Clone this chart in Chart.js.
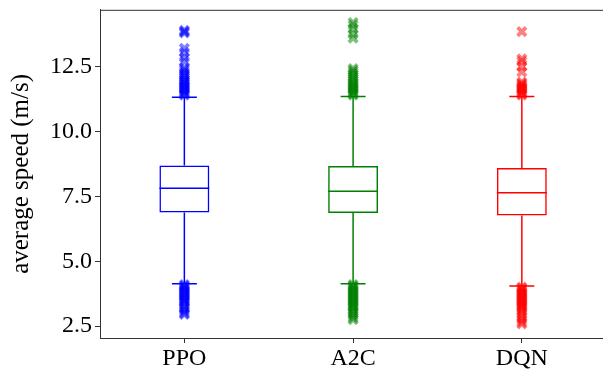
<!DOCTYPE html>
<html>
<head>
<meta charset="utf-8">
<script src="https://cdn.jsdelivr.net/npm/chart.js@4.4.0/dist/chart.umd.min.js"></script>
<style>
  html, body { margin: 0; padding: 0; background: #fff; overflow: hidden; }
  #wrap { width: 616px; height: 376px; }
</style>
</head>
<body>
<div id="wrap"><canvas id="boxChart" width="616" height="376"></canvas></div>
<script>
// data
const groups = ['PPO', 'A2C', 'DQN'];
const q1 = [6.88, 6.86, 6.76];
const medians = [7.81, 7.70, 7.64];
const q3 = [8.69, 8.67, 8.59];
const whiskerLow = [4.13, 4.13, 4.04];
const whiskerHigh = [11.32, 11.35, 11.35];
const colors = ['#0000ff', '#008000', '#ff0000'];
const fliersColors = ['rgba(0,0,255,0.5)', 'rgba(0,128,0,0.5)', 'rgba(255,0,0,0.5)'];

const ppoFliers = [13.9, 13.85, 13.8, 13.2, 13.05, 12.85, 12.7, 12.45, 12.38, 12.3, 12.22, 12.15,
  12.08, 12.0, 11.95, 11.9, 11.85, 11.8, 11.75, 11.7, 11.65, 11.6, 11.55, 11.5, 11.45, 11.4,
  4.1, 4.05, 4.0, 3.95, 3.9, 3.85, 3.8, 3.75, 3.7, 3.65, 3.6, 3.55, 3.5, 3.45, 3.4, 3.3,
  3.22, 3.15, 3.08, 3.0, 2.95];
const a2cFliers = [14.2, 14.1, 13.95, 13.75, 13.6, 12.42, 12.35, 12.28, 12.2, 12.12, 12.05,
  11.98, 11.9, 11.85, 11.8, 11.75, 11.7, 11.65, 11.6, 11.55, 11.5, 11.45, 11.4,
  4.1, 4.05, 4.0, 3.95, 3.9, 3.85, 3.8, 3.75, 3.7, 3.65, 3.6, 3.55, 3.5, 3.45, 3.4, 3.35,
  3.3, 3.25, 3.2, 3.12, 3.05, 2.98, 2.9, 2.82, 2.75];
const dqnFliers = [13.85, 12.8, 12.7, 12.5, 12.3, 11.9, 11.85, 11.8, 11.75, 11.7, 11.65, 11.6,
  11.55, 11.5, 11.45, 11.4,
  4.0, 3.95, 3.9, 3.85, 3.8, 3.75, 3.7, 3.65, 3.6, 3.55, 3.5, 3.45, 3.4, 3.35, 3.3, 3.25,
  3.2, 3.12, 3.05, 2.95, 2.85, 2.75, 2.65, 2.58];
const fliers = [ppoFliers, a2cFliers, dqnFliers];

const yTicks = [2.5, 5.0, 7.5, 10.0, 12.5];

const boxHalf = 0.148;   // half box width in category units
const capHalf = 0.074;

// whiskers, caps and median as one broken line per group
function boxLines(i) {
  const gap = {x: i, y: null};
  return [
    {x: i - capHalf, y: whiskerLow[i]}, {x: i + capHalf, y: whiskerLow[i]}, gap,
    {x: i, y: whiskerLow[i]}, {x: i, y: q1[i]}, gap,
    {x: i - boxHalf, y: medians[i]}, {x: i + boxHalf, y: medians[i]}, gap,
    {x: i, y: q3[i]}, {x: i, y: whiskerHigh[i]}, gap,
    {x: i - capHalf, y: whiskerHigh[i]}, {x: i + capHalf, y: whiskerHigh[i]}
  ];
}

const datasets = [];
groups.forEach((g, i) => {
  datasets.push({
    type: 'scatter',
    xAxisID: 'xl',
    data: fliers[i].map(v => ({x: i, y: v})),
    pointStyle: 'crossRot',
    pointRadius: 6,
    borderWidth: 3.8,
    borderColor: fliersColors[i],
    backgroundColor: fliersColors[i],
    order: 1
  });
  datasets.push({
    type: 'line',
    xAxisID: 'xl',
    data: boxLines(i),
    borderColor: colors[i],
    borderWidth: 1.5,
    pointRadius: 0,
    spanGaps: false,
    fill: false,
    order: 2
  });
});
datasets.push({
  type: 'bar',
  xAxisID: 'x',
  data: groups.map((g, i) => [q1[i], q3[i]]),
  backgroundColor: 'rgba(0,0,0,0)',
  borderColor: colors,
  borderWidth: 1.5,
  borderSkipped: false,
  grouped: false,
  barPercentage: boxHalf * 2,
  categoryPercentage: 1,
  order: 3
});

const topBorder = {
  id: 'topBorder',
  afterDraw(chart) {
    const {ctx, chartArea} = chart;
    ctx.save();
    ctx.strokeStyle = '#333';
    ctx.lineWidth = 1;
    ctx.beginPath();
    ctx.moveTo(chartArea.left, chartArea.top + 0.5);
    ctx.lineTo(chartArea.right, chartArea.top + 0.5);
    ctx.stroke();
    ctx.restore();
  }
};

const serif = "'Liberation Serif', 'DejaVu Serif', serif";

new Chart(document.getElementById('boxChart'), {
  data: {labels: groups, datasets: datasets},
  plugins: [topBorder],
  options: {
    responsive: false,
    animation: false,
    layout: {padding: {top: 9, left: 0, right: 0, bottom: 0}},
    plugins: {legend: {display: false}, tooltip: {enabled: false}},
    scales: {
      x: {
        type: 'category',
        offset: true,
        afterFit: s => { s.height = 38; s.paddingLeft = 0; s.paddingRight = 0; },
        grid: {display: true, offset: false, drawOnChartArea: false, drawTicks: true, tickLength: 5, color: '#333'},
        border: {display: true, color: '#333', width: 1},
        ticks: {color: '#000', padding: 1, font: {family: serif, size: 24}}
      },
      xl: {
        type: 'linear',
        display: false,
        min: -0.5,
        max: 2.5
      },
      y: {
        type: 'linear',
        min: 2.04,
        max: 14.69,
        afterFit: s => { s.width = 100; s.paddingTop = 0; s.paddingBottom = 0; },
        afterBuildTicks: s => { s.ticks = yTicks.map(v => ({value: v})); },
        grid: {display: true, drawOnChartArea: false, drawTicks: true, tickLength: 5, color: '#333'},
        border: {display: true, color: '#333', width: 1},
        ticks: {
          color: '#000',
          padding: 3,
          font: {family: serif, size: 24},
          callback: v => Number(v).toFixed(1)
        },
        title: {
          display: true,
          text: 'average speed (m/s)',
          color: '#000',
          padding: {top: 6, bottom: 2},
          font: {family: serif, size: 25}
        }
      }
    }
  }
});
</script>
</body>
</html>
